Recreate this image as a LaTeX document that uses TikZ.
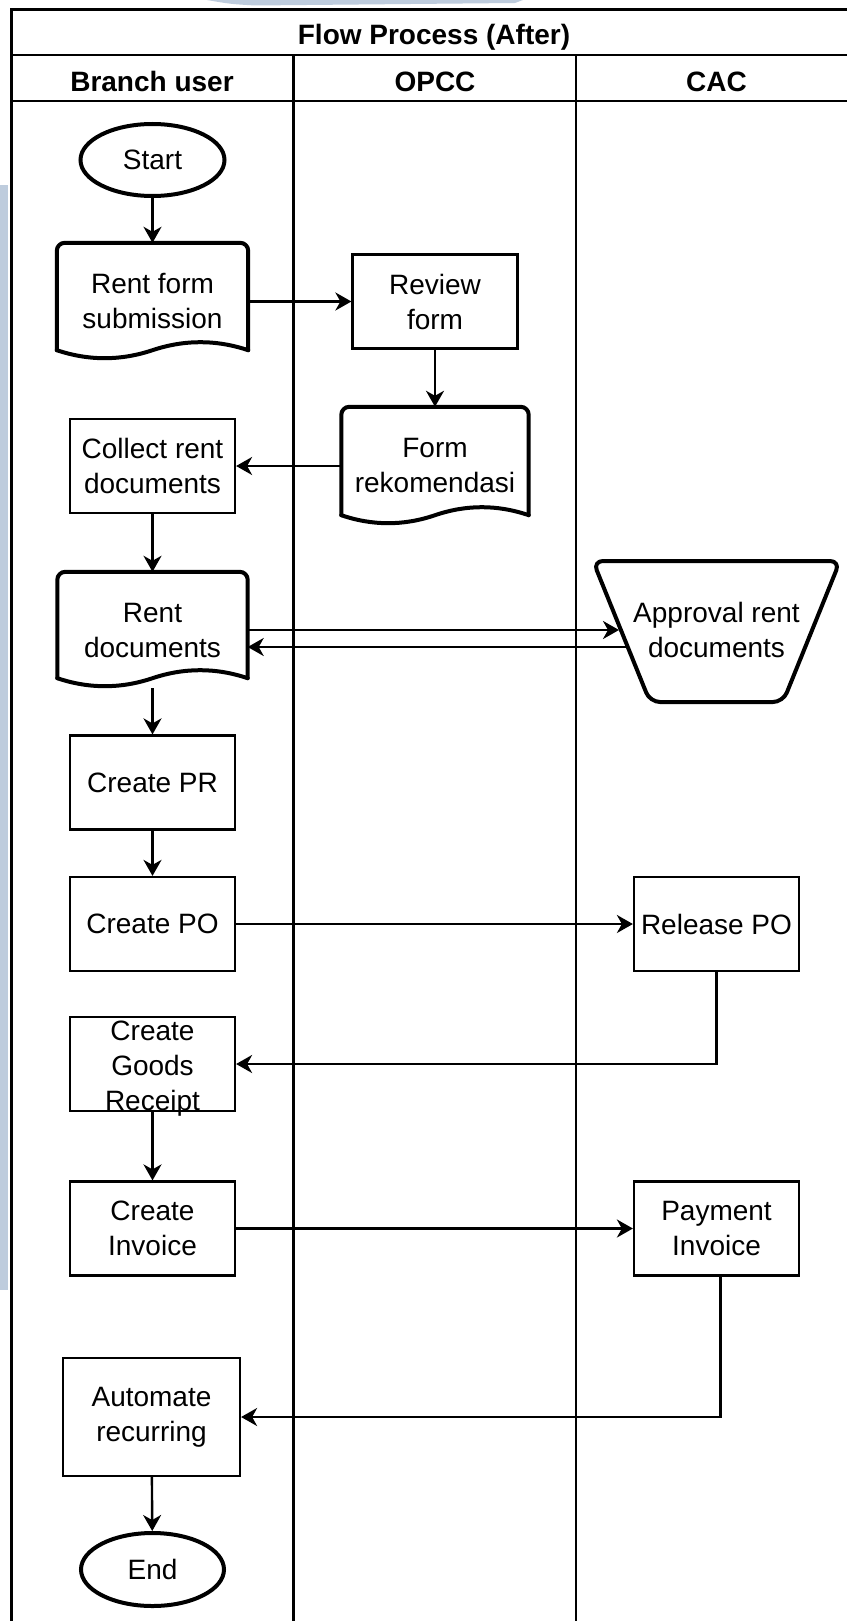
\documentclass[tikz,border=0pt]{standalone}
\usepackage{fontspec}
\setmainfont{Liberation Sans}
\usetikzlibrary{arrows.meta, shapes.geometric, calc}

\definecolor{wmark}{RGB}{190,204,221}

% Outline of a "document" symbol around a node: rounded top, wavy bottom.
\newcommand\docoutline[1]{%
  \coordinate (#1-se) at ([yshift=10pt]#1.south east);
  \coordinate (#1-sw) at ([yshift=10pt]#1.south west);
  \draw[thk, rounded corners=8pt] (#1-sw) -- (#1.north west) -- (#1.north east) -- (#1-se);
  \draw[thk] (#1-se)
     .. controls ($(#1-se)!1/6!(#1-sw)+(0,-10.67)$) and ($(#1-se)!1/3!(#1-sw)+(0,-10.67)$) .. ($(#1-se)!1/2!(#1-sw)$)
     .. controls ($(#1-se)!2/3!(#1-sw)+(0,10.67)$) and ($(#1-se)!5/6!(#1-sw)+(0,10.67)$) .. (#1-sw);
}

\begin{document}
\begin{tikzpicture}[x=1pt, y=-1pt,
  every node/.style={font=\fontsize{28}{35}\selectfont, align=center, inner sep=0pt},
  hdr/.style={font=\fontsize{28}{35}\selectfont\bfseries, anchor=base},
  proc/.style={draw, line width=2.2pt, fill=white, minimum width=165pt, minimum height=94pt},
  term/.style={ellipse, draw, line width=4pt, fill=white, minimum width=144pt, minimum height=72pt},
  docbox/.style 2 args={minimum width=#1pt, minimum height=#2pt},
  thk/.style={line width=4pt, line cap=round, line join=round},
  flow/.style={line width=2.4pt, -{Stealth[length=16pt, width=18pt, inset=5pt]}},
  lane/.style={line width=2.6pt}]

\fill[white] (0,0) rectangle (846,1621);
\useasboundingbox (0,0) rectangle (846,1621);

% faint background marks
\fill[wmark] (207,0) .. controls (230,4) .. (255,5.5) -- (515,3) -- (523,0) -- cycle;
\fill[wmark] (0,185) rectangle (8,1290);

% swimlane table
\draw[lane] (11.5,1640) -- (11.5,9.5) -- (870,9.5);
\draw[lane] (11.5,55) -- (870,55);
\draw[lane] (11.5,101) -- (870,101);
\draw[lane] (293.5,55) -- (293.5,1640);
\draw[lane] (576,55) -- (576,1640);

\node[hdr] (title) at (434,45) {Flow Process (After)};
\node[hdr] (laneA) at (152,92) {Branch user};
\node[hdr] (laneB) at (435,92) {OPCC};
\node[hdr] (laneC) at (716.5,92) {CAC};

% steps
\node[term] (start) at (152.5,160) {Start};
\node[docbox={191}{117}] (rfs) at (152.5,301.5) {Rent form\\submission};
\node[proc] (rev) at (435,301.5) {Review\\form};
\node[docbox={187}{118}] (frk) at (435,466) {Form\\rekomendasi};
\node[proc] (col) at (152.5,466) {Collect rent\\documents};
\node[docbox={190}{116}] (rdoc) at (152.5,630) {Rent\\documents};
\node[minimum width=180pt, minimum height=141pt] (appr) at (716.5,630) {Approval rent\\documents};
\node[proc] (pr) at (152.5,782.5) {Create PR};
\node[proc] (po) at (152.5,924) {Create PO};
\node[proc] (rel) at (716.5,924) {Release PO};
\node[proc] (gr) at (152.5,1064) {};
\node (grtext) at ([yshift=-5pt]gr.center) {Create\\Goods\\Receipt};
\node[proc] (inv) at (152.5,1228.5) {Create\\Invoice};
\node[proc] (pay) at (716.5,1228.5) {Payment\\Invoice};
\node[proc, minimum width=177pt, minimum height=118pt] (auto) at (151.5,1417) {Automate\\recurring};
\node[term, minimum width=143pt, minimum height=73pt] (stop) at (152.5,1569.5) {End};

% symbol outlines
\docoutline{rfs}
\docoutline{frk}
\docoutline{rdoc}
\draw[thk, rounded corners=10pt, shift={(716.5,631.5)}]
  (-123.5,-70.5) -- (123.5,-70.5) -- (66.5,70.5) -- (-66.5,70.5) -- cycle;
\coordinate (apprin) at (619,630);
\coordinate (approut) at (628,647);

% connectors
\draw[flow] (start) -- (rfs);
\draw[flow] (rfs) -- (rev);
\draw[flow] (rev) -- (frk);
\draw[flow] (frk) -- (col);
\draw[flow] (col) -- (rdoc);
\draw[flow] (rdoc.east) -- (apprin);
\draw[flow] (approut) -- (approut -| rdoc.east);
\draw[flow] (rdoc) -- (pr);
\draw[flow] (pr) -- (po);
\draw[flow] (po) -- (rel);
\draw[flow] (rel.south) |- (gr.east);
\draw[flow] (gr) -- (inv);
\draw[flow] (inv) -- (pay);
\draw[flow] ([xshift=4pt]pay.south) |- (auto.east);
\draw[flow] (auto) -- (stop);
\end{tikzpicture}
\end{document}
